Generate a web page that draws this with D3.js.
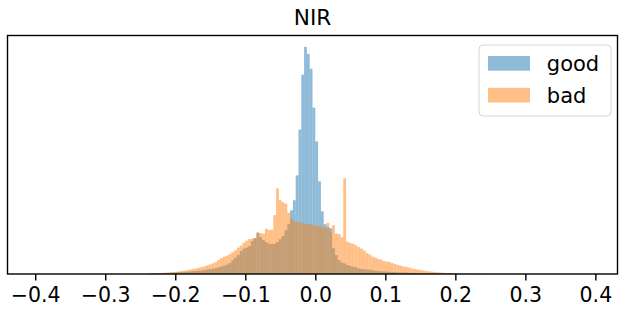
<!DOCTYPE html>
<html>
<head>
    <meta charset="utf-8" />
    <title>NIR</title>
    <script src="https://d3js.org/d3.v7.min.js"></script>
    <style>
        body { margin: 0; background: #fff; }
        svg { display: block; font-family: "DejaVu Sans", sans-serif; }
    </style>
</head>
<body>
    <svg width="623" height="312"></svg>
    <script>

        // histogram bins (shared by both series)
        var binStart = -0.24;
        var binWidth = 0.004;
        // x limits of the axes (data range -0.4 .. 0.392 plus 5% margins)
        var xLimits = [-0.4396, 0.4316];
        var xTicks = [-0.4, -0.3, -0.2, -0.1, 0.0, 0.1, 0.2, 0.3, 0.4];

        var seriesNames = ["good", "bad"];

        var goodCounts = [
            3, 4, 5, 6, 7, 8,
            9, 10, 12, 14, 16, 18, 20,
            22, 24, 26, 28, 30, 33,
            36, 40, 45, 50, 55, 60,
            68, 75, 85, 95, 110,
            140, 165, 190, 230, 255,
            265, 280, 330, 360, 410,
            370, 340, 320, 305, 300,
            305, 320, 350, 380, 440,
            500, 640, 740, 990, 1450,
            2000, 2280, 2210, 2060, 1670,
            1330, 930, 630, 500, 470,
            460, 260, 190, 140, 115,
            105, 90, 80, 73, 68,
            55, 50, 47, 45, 42,
            38, 32, 29, 27, 26,
            24, 22, 20, 18, 17,
            16, 15, 14, 13, 12,
            11, 10, 9, 9, 8,
            8, 7, 7, 6, 6,
            5, 5, 4, 4, 4,
            3, 3, 3, 2, 2,
            2, 1, 1, 1, 1
        ];

        var badCounts = [
            2, 4, 6, 8, 10,
            11, 13, 15, 18, 20,
            23, 26, 30, 34, 39,
            44, 50, 56, 63, 70,
            78, 88, 98, 108, 120,
            140, 160, 175, 185, 200,
            220, 240, 265, 285, 315,
            335, 350, 355, 360, 420,
            410, 405, 455, 440, 445,
            590, 860, 740, 720, 705,
            615, 560, 530, 520, 520,
            510, 500, 500, 500, 490,
            485, 480, 475, 465, 513,
            423, 490, 407, 400, 370,
            960, 325, 310, 305, 290,
            270, 255, 235, 210, 195,
            175, 165, 150, 145, 130,
            125, 120, 110, 100, 90,
            85, 75, 70, 65, 55,
            50, 45, 40, 35, 30,
            27, 24, 21, 18, 15,
            13, 11, 9, 8, 7,
            6, 5, 4, 4, 3,
            3, 2, 2, 1, 1
        ];

        var colors = ["#1f77b4", "#ff7f0e"];

        var svg = d3.select("svg"),
            margin = { top: 35.5, right: 5.5, bottom: 38, left: 7.5 },
            width = +svg.attr("width") - margin.left - margin.right,
            height = +svg.attr("height") - margin.top - margin.bottom,
            g = svg.append("g").attr("transform", "translate(" + margin.left + "," + margin.top + ")");

        var maxCount = d3.max(goodCounts.concat(badCounts));

        var x = d3.scaleLinear().domain(xLimits).range([0, width]);
        var y = d3.scaleLinear().domain([0, maxCount * 1.05]).range([height, 0]);

        function toBins(counts) {
            return counts.map(function (c, i) {
                return { x0: binStart + i * binWidth, x1: binStart + (i + 1) * binWidth, count: c };
            });
        }

        var series = [toBins(goodCounts), toBins(badCounts)];

        series.forEach(function (bins, s) {
            g.append("g")
                .attr("fill", colors[s])
                .attr("fill-opacity", 0.5)
                .selectAll("rect")
                .data(bins.filter(function (d) { return d.count > 0; }))
                .enter().append("rect")
                .attr("x", function (d) { return x(d.x0); })
                .attr("width", function (d) { return x(d.x1) - x(d.x0); })
                .attr("y", function (d) { return y(d.count); })
                .attr("height", function (d) { return height - y(d.count); });
        });

        var fmt = d3.format(".1f");

        var xAxis = g.append("g")
            .attr("class", "axis axis--x")
            .attr("transform", "translate(0," + height + ")")
            .call(d3.axisBottom(x).tickValues(xTicks).tickSize(6.5).tickSizeOuter(0).tickPadding(6.5)
                .tickFormat(function (d) { return fmt(d).replace("-", "\u2212"); }));
        // d3 puts its own font on the axis group, so override it there
        xAxis.attr("font-size", 20.5).attr("font-family", "DejaVu Sans");
        xAxis.select(".domain").remove();
        xAxis.selectAll("line").attr("stroke", "#000").attr("stroke-width", 1.4);
        xAxis.selectAll("text").attr("fill", "#000");

        // frame
        g.append("rect")
            .attr("width", width)
            .attr("height", height)
            .attr("fill", "none")
            .attr("stroke", "#000")
            .attr("stroke-width", 1.4);

        // title
        svg.append("text")
            .attr("x", margin.left + width / 2)
            .attr("y", margin.top - 11)
            .attr("text-anchor", "middle")
            .style("font-size", "21.6px")
            .text("NIR");

        // legend
        var fs = 21;
        var legW = 132, legH = 71;
        var leg = g.append("g")
            .attr("transform", "translate(" + (width - 6.5 - legW) + ",9.5)");

        leg.append("rect")
            .attr("width", legW)
            .attr("height", legH)
            .attr("rx", 4)
            .attr("fill", "#fff")
            .attr("fill-opacity", 0.8)
            .attr("stroke", "#d6d6d6")
            .attr("stroke-width", 1);

        seriesNames.forEach(function (name, s) {
            var row = leg.append("g")
                .attr("transform", "translate(9," + (11 + s * 31.8) + ")");
            row.append("rect")
                .attr("width", 2 * fs)
                .attr("height", 0.7 * fs)
                .attr("fill", colors[s])
                .attr("fill-opacity", 0.5);
            row.append("text")
                .attr("x", 2.8 * fs)
                .attr("y", 0.7 * fs)
                .style("font-size", fs + "px")
                .text(name);
        });

    </script>
</body>
</html>
